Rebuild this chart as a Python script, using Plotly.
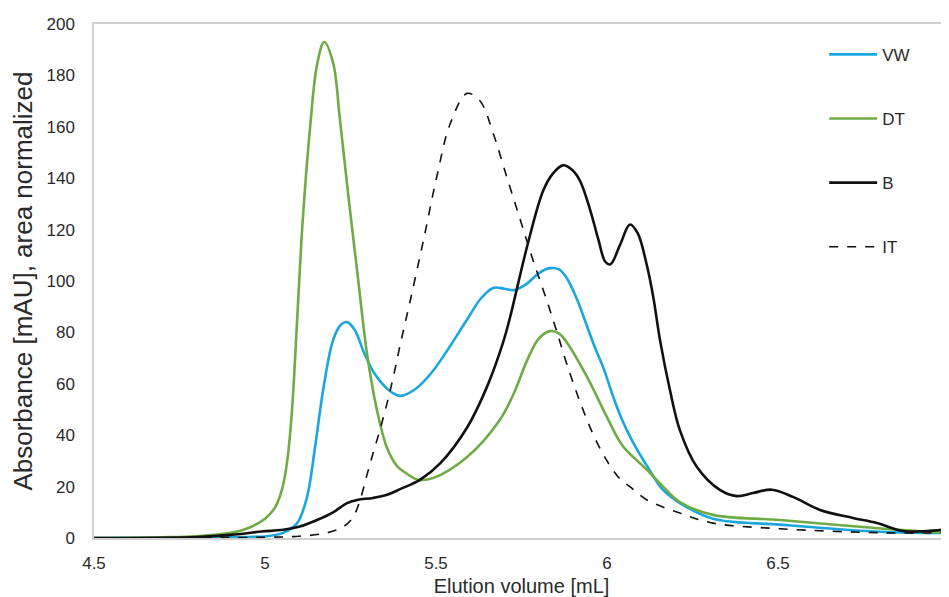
import plotly.graph_objects as go

# Elution volume [mL] / absorbance values
vw_x = [4.5, 4.8, 4.95, 5.006, 5.053, 5.094, 5.123, 5.146, 5.17, 5.199, 5.222, 5.24, 5.262, 5.29, 5.32, 5.35, 5.374, 5.395, 5.44, 5.491, 5.591, 5.63, 5.667, 5.70, 5.73, 5.766, 5.8, 5.833, 5.86, 5.883, 5.912, 5.94, 5.965, 5.99, 6.018, 6.044, 6.073, 6.117, 6.164, 6.213, 6.31, 6.506, 6.819, 7.0]
vw_y = [0, 0.2, 0.4, 0.7, 2, 5.8, 16, 35, 57.6, 77, 83, 84, 81, 72, 64, 59, 56.4, 55.3, 58, 65, 85, 93, 97.3, 97, 96.5, 99, 103, 105, 104.5, 101, 93, 83, 74, 66, 55, 46, 38, 28, 18.7, 13.6, 7.5, 5.2, 2.3, 2]

dt_x = [4.5, 4.7, 4.8, 4.9, 4.95, 5.0, 5.03, 5.05, 5.065, 5.078, 5.088, 5.098, 5.111, 5.132, 5.152, 5.173, 5.199, 5.219, 5.243, 5.272, 5.298, 5.327, 5.357, 5.386, 5.415, 5.444, 5.491, 5.591, 5.687, 5.73, 5.766, 5.8, 5.833, 5.86, 5.883, 5.942, 6.0, 6.045, 6.117, 6.164, 6.213, 6.31, 6.506, 6.819, 7.0]
dt_y = [0, 0.3, 0.7, 2, 3.8, 7.5, 12, 19, 30, 48, 70, 95, 125, 160, 184, 193, 185, 163, 134, 101, 72, 50, 35, 28, 25, 22.8, 23.3, 31.5, 46, 57, 69, 77.5, 80.5, 79.5, 76, 62.6, 47, 36, 26.5, 20, 14, 9, 7, 3.5, 2]

b_x = [4.5, 4.8, 4.9, 4.99, 5.053, 5.102, 5.152, 5.199, 5.24, 5.269, 5.316, 5.357, 5.395, 5.453, 5.512, 5.591, 5.649, 5.696, 5.716, 5.769, 5.813, 5.84, 5.871, 5.9, 5.921, 5.95, 5.975, 5.995, 6.01, 6.038, 6.067, 6.09, 6.115, 6.135, 6.155, 6.184, 6.213, 6.263, 6.33, 6.38, 6.427, 6.482, 6.544, 6.623, 6.719, 6.789, 6.865, 6.936, 7.0]
b_y = [0, 0.4, 1.2, 2.5, 3.2, 4.5, 7, 10, 13.6, 14.8, 15.6, 16.8, 19, 22.6, 29, 43, 58.8, 76, 85.6, 114.8, 135, 141.5, 145, 143, 139, 128, 116, 107.5, 106.5, 114, 122, 118.5, 107, 94, 77, 57.6, 42, 27.6, 18.7, 16.3, 17.5, 18.8, 16, 10.9, 7.8, 5.8, 2.7, 2.7, 3.5]

it_x = [4.5, 5.0, 5.1, 5.181, 5.228, 5.257, 5.278, 5.298, 5.316, 5.336, 5.357, 5.374, 5.395, 5.424, 5.462, 5.503, 5.541, 5.591, 5.629, 5.667, 5.708, 5.746, 5.784, 5.825, 5.854, 5.883, 5.921, 5.959, 6.0, 6.038, 6.067, 6.117, 6.213, 6.31, 6.506, 6.819, 7.0]
it_y = [0, 0.3, 0.7, 2, 4.3, 8, 14.8, 24.5, 33, 42, 52.5, 62, 75, 92, 115, 141, 161, 173, 170, 157.6, 140, 124, 108, 92, 80, 67.5, 53, 40.5, 30, 23, 20, 14.8, 9.7, 5.8, 3.6, 2, 2]

x_ticks = [4.5, 5, 5.5, 6, 6.5, 7]
x_tick_labels = ["4.5", "5", "5.5", "6", "6.5", "7"]
y_ticks = [0, 20, 40, 60, 80, 100, 120, 140, 160, 180, 200]

FONT = "Liberation Sans, Arial, sans-serif"
fig = go.Figure()
series = [
    ("VW", vw_x, vw_y, "#1AA7DD", 2.6, "solid"),
    ("DT", dt_x, dt_y, "#6FAC46", 2.6, "solid"),
    ("B", b_x, b_y, "#111111", 2.6, "solid"),
    ("IT", it_x, it_y, "#111111", 1.6, "dash"),
]
for name, xs, ys, col, w, dash in series:
    fig.add_trace(go.Scatter(
        x=xs, y=ys, mode="lines", name=name, legendgroup=name,
        line=dict(color=col, width=w, dash=dash, shape="spline", smoothing=1.0),
    ))

# the page body adds an 8px offset; margins compensate for it
fig.update_layout(
    width=949, height=597,
    margin=dict(l=86, r=8, t=16, b=67, autoexpand=False),
    paper_bgcolor="white", plot_bgcolor="white",
    font=dict(family=FONT, size=17, color="#2a2a2a"),
    showlegend=True,
    legend=dict(
        x=0.854, y=0.975, xanchor="left", yanchor="top",
        traceorder="grouped", tracegroupgap=39,
        font=dict(size=17, color="#2a2a2a"),
        itemwidth=48, bgcolor="rgba(0,0,0,0)",
    ),
)
fig.update_xaxes(
    range=[4.5, 7], tickvals=x_ticks, ticktext=x_tick_labels,
    showgrid=False, zeroline=False, automargin=False,
    showline=True, linecolor="#D0D0D0", linewidth=1.5, mirror=True,
    ticks="", ticklabelstandoff=9,
    title=dict(text="Elution volume [mL]", font=dict(size=20), standoff=7),
)
fig.update_yaxes(
    range=[0, 200], tickvals=y_ticks,
    showgrid=False, zeroline=False, automargin=False,
    showline=True, linecolor="#D0D0D0", linewidth=1.5, mirror=True,
    ticks="", ticklabelstandoff=14,
    title=dict(text="Absorbance [mAU], area normalized", font=dict(size=26), standoff=10),
)

fig.write_html("out.html")
